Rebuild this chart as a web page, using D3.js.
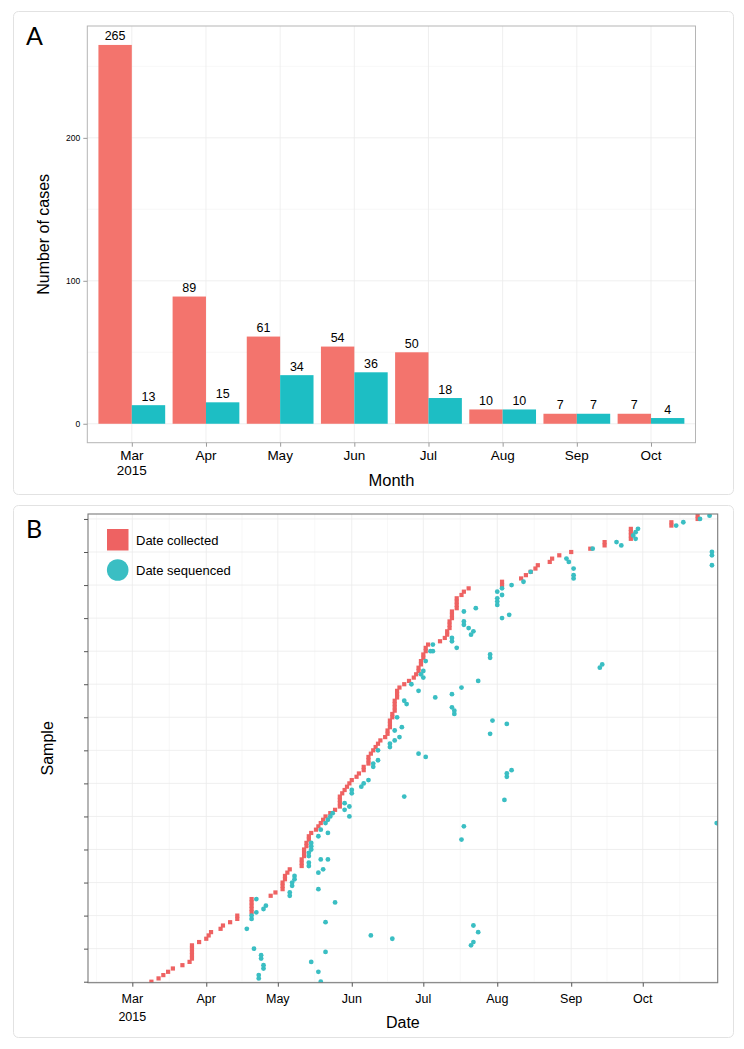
<!DOCTYPE html>
<html><head><meta charset="utf-8">
<script src="https://cdn.jsdelivr.net/npm/d3@7"></script>
<style>
body{margin:0;background:#fff}
svg{display:block}
text{font-family:"Liberation Sans",Arial,Helvetica,sans-serif;fill:#000}
</style>
</head><body>
<svg id="chart" width="744" height="1049"></svg>
<script>
// ---------- Panel A data ----------
const months = ["Mar", "Apr", "May", "Jun", "Jul", "Aug", "Sep", "Oct"];
const monthTickLabels = [["Mar", "2015"], ["Apr"], ["May"], ["Jun"], ["Jul"], ["Aug"], ["Sep"], ["Oct"]];
const collectedCounts = [265, 89, 61, 54, 50, 10, 7, 7];
const sequencedCounts = [13, 15, 34, 36, 18, 10, 7, 4];
const countTicks = [0, 100, 200];

// ---------- Panel B data (days since 2015-03-01) ----------
const originDate = "2015-03-01";
// collection day of sample i (sample index = array position)
const collectedDay = [
  8, 11, 13, 15, 17, 21, 24, 25, 25, 25,
  25, 25, 28, 31, 32, 33, 37, 38, 41, 44,
  44, 50, 50, 50, 50, 50, 58, 60, 63, 63,
  63, 64, 64, 65, 66, 71, 71, 71, 72, 72,
  72, 73, 73, 74, 74, 75, 77, 78, 79, 80,
  81, 83, 85, 87, 87, 87, 87, 88, 89, 90,
  91, 92, 94, 95, 97, 97, 99, 99, 99, 100,
  101, 102, 103, 104, 106, 107, 107, 108, 108, 108,
  109, 109, 110, 110, 110, 110, 111, 111, 111, 112,
  114, 116, 118, 119, 120, 120, 121, 121, 122, 122,
  123, 123, 124, 129, 131, 132, 132, 133, 133, 133,
  134, 134, 134, 136, 136, 136, 136, 138, 139, 141,
  155, 155, 163, 165, 167, 169, 170, 175, 176, 179,
  184, 192, 198, 198, 209, 209, 209, 209, 226, 226,
  237, 237
];
// sequencing points: sample index and day
const sequencedSample = [
  0, 1, 2, 3, 4, 5, 6, 7, 8, 9,
  10, 11, 12, 13, 14, 15, 16, 17, 18, 19,
  20, 21, 22, 23, 24, 25, 26, 27, 28, 29,
  30, 31, 32, 33, 34, 35, 36, 37, 37, 38,
  39, 40, 41, 42, 43, 44, 45, 46, 47, 48,
  48, 49, 50, 50, 51, 52, 53, 54, 55, 56,
  57, 58, 59, 60, 61, 62, 63, 64, 65, 66,
  67, 68, 69, 70, 71, 72, 73, 74, 75, 76,
  77, 78, 79, 80, 81, 82, 83, 84, 85, 86,
  87, 88, 89, 90, 91, 92, 93, 94, 95, 96,
  97, 98, 99, 100, 100, 101, 102, 103, 104, 105,
  106, 107, 108, 109, 110, 111, 112, 113, 114, 115,
  116, 117, 118, 119, 120, 121, 122, 123, 124, 125,
  126, 127, 128, 129, 130, 131, 132, 133, 134, 135,
  136, 137, 138, 139, 140, 141
];
const sequencedDay = [
  79, 53, 53, 78, 55, 55, 75, 54, 54, 81,
  51, 142, 143, 109, 100, 145, 48, 143, 81, 50,
  50, 52, 55, 56, 85, 52, 66, 66, 78, 67,
  67, 68, 68, 78, 80, 74, 74, 79, 82, 74,
  74, 75, 75, 75, 138, 78, 82, 79, 139, 81,
  245, 82, 83, 91, 84, 89, 91, 89, 156, 114,
  92, 92, 96, 97, 99, 157, 157, 159, 101, 101,
  103, 123, 120, 103, 108, 108, 110, 112, 150, 110,
  113, 157, 151, 111, 135, 135, 134, 115, 114, 127,
  134, 120, 138, 117, 145, 122, 121, 122, 196, 197,
  123, 150, 150, 125, 126, 136, 126, 134, 134, 142,
  143, 141, 139, 139, 155, 158, 139, 144, 153, 153,
  153, 155, 153, 155, 159, 164, 185, 185, 167, 185,
  243, 183, 182, 243, 243, 193, 205, 203, 211, 210,
  211, 212, 228, 231, 238, 242
];
const sampleTicks = d3.range(0, 141, 10);
const legendLabels = ["Date collected", "Date sequenced"];

// ---------- styles ----------
const RED_A = "#F3746D", TEAL_A = "#1DBEC4";
const RED_B = "#EE6262", TEAL_B = "#3ABEC3";

const svg = d3.select("#chart");
svg.append("rect").attr("width", 744).attr("height", 1049).attr("fill", "#fff");

// panel frames
[[13, 11, 720, 483], [13, 505, 720, 532]].forEach(([x, y, w, h]) => {
  svg.append("rect").attr("x", x + 0.5).attr("y", y + 0.5).attr("width", w).attr("height", h)
    .attr("rx", 5).attr("fill", "none").attr("stroke", "#e2e2e2").attr("stroke-width", 1);
});
svg.append("text").attr("x", 26).attr("y", 45).attr("font-size", 25)
  .style("font-family", "Lato, 'Open Sans', sans-serif").style("font-weight", 400).text("A");
svg.append("text").attr("x", 26).attr("y", 538).attr("font-size", 25)
  .style("font-family", "Lato, 'Open Sans', sans-serif").style("font-weight", 400).text("B");

// ================= Panel A =================
{
  const L = 87.3, R = 695.5, T = 26, B = 442.7;
  const x = d3.scaleLinear().domain([-0.6, months.length - 0.4]).range([L, R]);
  const y = d3.scaleLinear().domain([-13.25, 278.25]).range([B, T]);
  const g = svg.append("g");
  // minor grid
  [50, 150, 250].forEach(v => g.append("line").attr("x1", L).attr("x2", R)
    .attr("y1", y(v)).attr("y2", y(v)).attr("stroke", "#f4f4f4").attr("stroke-width", 0.6));
  countTicks.forEach(v => g.append("line").attr("x1", L).attr("x2", R)
    .attr("y1", y(v)).attr("y2", y(v)).attr("stroke", "#ebebeb").attr("stroke-width", 0.8));
  months.forEach((m, i) => g.append("line").attr("x1", x(i)).attr("x2", x(i))
    .attr("y1", T).attr("y2", B).attr("stroke", "#ebebeb").attr("stroke-width", 0.8));

  const bw = 0.45;
  g.selectAll("rect.c").data(collectedCounts).join("rect")
    .attr("x", (d, i) => x(i - bw)).attr("width", (d, i) => x(i) - x(i - bw))
    .attr("y", d => y(d)).attr("height", d => y(0) - y(d)).attr("fill", RED_A);
  g.selectAll("rect.s").data(sequencedCounts).join("rect")
    .attr("x", (d, i) => x(i)).attr("width", (d, i) => x(i + bw) - x(i))
    .attr("y", d => y(d)).attr("height", d => y(0) - y(d)).attr("fill", TEAL_A);
  // value labels
  collectedCounts.forEach((d, i) => g.append("text").attr("x", x(i - bw / 2)).attr("y", y(d) - 4.5)
    .attr("text-anchor", "middle").attr("font-size", 12.5).text(d));
  sequencedCounts.forEach((d, i) => g.append("text").attr("x", x(i + bw / 2)).attr("y", y(d) - 4.5)
    .attr("text-anchor", "middle").attr("font-size", 12.5).text(d));

  // border
  g.append("rect").attr("x", L).attr("y", T).attr("width", R - L).attr("height", B - T)
    .attr("fill", "none").attr("stroke", "#b5b5b5").attr("stroke-width", 1);

  // y axis
  const ya = d3.axisLeft(y).tickValues(countTicks).tickSize(4).tickPadding(3);
  const yg = g.append("g").attr("transform", `translate(${L},0)`).call(ya);
  yg.select(".domain").remove();
  yg.selectAll(".tick line").attr("stroke", "#9a9a9a");
  yg.selectAll(".tick text").attr("font-size", 8.5).attr("fill", "#222")
    .style("font-family", "'Liberation Sans',Arial,sans-serif");

  // x axis
  const xa = d3.axisBottom(x).tickValues(d3.range(months.length)).tickSize(4).tickFormat(() => "");
  const xg = g.append("g").attr("transform", `translate(0,${B})`).call(xa);
  xg.select(".domain").remove();
  xg.selectAll(".tick line").attr("stroke", "#9a9a9a");
  monthTickLabels.forEach((lines, i) => lines.forEach((t, k) =>
    g.append("text").attr("x", x(i)).attr("y", 460 + k * 14.5).attr("text-anchor", "middle")
      .attr("font-size", 13.5).text(t)));

  g.append("text").attr("x", (L + R) / 2).attr("y", 486).attr("text-anchor", "middle")
    .attr("font-size", 16.5).text("Month");
  g.append("text").attr("transform", `translate(49,${(T + B) / 2}) rotate(-90)`)
    .attr("text-anchor", "middle").attr("font-size", 16).text("Number of cases");
}

// ================= Panel B =================
{
  const L = 88, R = 717.7, T = 514, B = 982.7;
  const origin = new Date(originDate + "T00:00:00Z");
  const toDate = d => d3.utcDay.offset(origin, d);
  const x = d3.scaleUtc()
    .domain([new Date(Date.UTC(2015, 1, 10, 10)), new Date(Date.UTC(2015, 10, 1, 10))])
    .range([L, R]);
  const y = d3.scaleLinear().domain([-0.3, 141.5]).range([B, T]);
  const g = svg.append("g");

  g.append("clipPath").attr("id", "clipB").append("rect")
    .attr("x", L).attr("y", T).attr("width", R - L).attr("height", B - T);

  const monthTicks = d3.utcMonth.range(new Date(Date.UTC(2015, 2, 1)), new Date(Date.UTC(2015, 10, 1)));
  // minor vertical grid (mid-month)
  const minor = [];
  for (let i = 0; i < monthTicks.length; i++) {
    const a = monthTicks[i];
    const b = i + 1 < monthTicks.length ? monthTicks[i + 1] : d3.utcMonth.offset(a, 1);
    minor.push(new Date((a.getTime() + b.getTime()) / 2));
  }
  minor.unshift(new Date(monthTicks[0].getTime() - 15 * 864e5));
  minor.filter(d => x(d) > L && x(d) < R).forEach(d => g.append("line")
    .attr("x1", x(d)).attr("x2", x(d)).attr("y1", T).attr("y2", B)
    .attr("stroke", "#f3f3f3").attr("stroke-width", 0.6));
  monthTicks.forEach(d => g.append("line").attr("x1", x(d)).attr("x2", x(d))
    .attr("y1", T).attr("y2", B).attr("stroke", "#ebebeb").attr("stroke-width", 0.8));
  sampleTicks.forEach(v => g.append("line").attr("x1", L).attr("x2", R)
    .attr("y1", y(v)).attr("y2", y(v)).attr("stroke", "#ebebeb").attr("stroke-width", 0.8));

  const pts = g.append("g").attr("clip-path", "url(#clipB)");
  const sq = 4.2;
  pts.selectAll("rect").data(collectedDay).join("rect")
    .attr("x", d => x(toDate(d)) - sq / 2).attr("y", (d, i) => y(i) - sq / 2)
    .attr("width", sq).attr("height", sq).attr("fill", RED_B);
  pts.selectAll("circle").data(sequencedDay).join("circle")
    .attr("cx", d => x(toDate(d))).attr("cy", (d, i) => y(sequencedSample[i]))
    .attr("r", 2.4).attr("fill", TEAL_B);

  // border
  g.append("rect").attr("x", L).attr("y", T).attr("width", R - L).attr("height", B - T)
    .attr("fill", "none").attr("stroke", "#7a7a7a").attr("stroke-width", 1.1);

  const ya = d3.axisLeft(y).tickValues(sampleTicks).tickSize(4).tickFormat(() => "");
  const yg = g.append("g").attr("transform", `translate(${L},0)`).call(ya);
  yg.select(".domain").remove();
  yg.selectAll(".tick line").attr("stroke", "#555");

  const xa = d3.axisBottom(x).tickValues(monthTicks).tickSize(4).tickFormat(() => "");
  const xg = g.append("g").attr("transform", `translate(0,${B})`).call(xa);
  xg.select(".domain").remove();
  xg.selectAll(".tick line").attr("stroke", "#555");
  const fmt = d3.utcFormat("%b");
  monthTicks.forEach((d, i) => {
    g.append("text").attr("x", x(d)).attr("y", 1003).attr("text-anchor", "middle")
      .attr("font-size", 12.5).text(fmt(d));
    if (i === 0) g.append("text").attr("x", x(d)).attr("y", 1020.5).attr("text-anchor", "middle")
      .attr("font-size", 12.5).text(d3.utcFormat("%Y")(d));
  });
  g.append("text").attr("x", (L + R) / 2 + 0).attr("y", 1027.5).attr("text-anchor", "middle")
    .attr("font-size", 16).text("Date");
  g.append("text").attr("transform", `translate(53,${(T + B) / 2}) rotate(-90)`)
    .attr("text-anchor", "middle").attr("font-size", 16).text("Sample");

  // legend
  const lg = g.append("g");
  lg.append("rect").attr("x", 107).attr("y", 529).attr("width", 21.5).attr("height", 21.5).attr("fill", RED_B);
  lg.append("circle").attr("cx", 117.7).attr("cy", 570).attr("r", 10.8).attr("fill", TEAL_B);
  legendLabels.forEach((t, i) => lg.append("text").attr("x", 136).attr("y", 544.5 + i * 30)
    .attr("font-size", 13).text(t));
}
</script>
</body></html>
